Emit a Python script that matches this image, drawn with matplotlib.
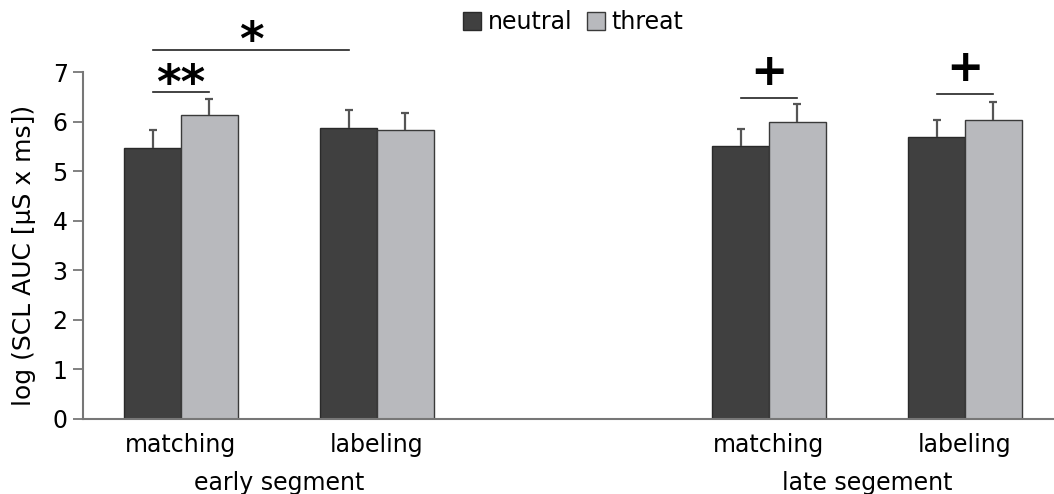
import numpy as np
import matplotlib
matplotlib.use("Agg")
import matplotlib.pyplot as plt
from matplotlib.patches import Patch

plt.rcParams["font.family"] = ["DejaVu Sans"]

conditions = ["matching", "labeling", "matching", "labeling"]
segments = ["early segment", "late segement"]
positions = [0, 1, 3, 4]

neutral = [5.46, 5.87, 5.50, 5.70]
threat = [6.14, 5.84, 6.00, 6.04]
neutral_err = [0.37, 0.37, 0.35, 0.34]
threat_err = [0.32, 0.34, 0.35, 0.36]

neutral_color = "#404040"
threat_color = "#b8b9bd"
err_color = "#555555"

fig = plt.figure(figsize=(10.54, 4.94), dpi=100)
ax = fig.add_axes([0.0787, 0.152, 0.9213, 0.702])

w = 0.29
x = np.array(positions, dtype=float)
ax.bar(x - w / 2, neutral, w, color=neutral_color, edgecolor="#2a2a2a", linewidth=1)
ax.bar(x + w / 2, threat, w, color=threat_color, edgecolor="#3a3a3a", linewidth=1)
for xs, vals, errs in [(x - w / 2, neutral, neutral_err), (x + w / 2, threat, threat_err)]:
    eb = ax.errorbar(xs, vals, yerr=[np.zeros(4), errs], fmt="none",
                     ecolor=err_color, elinewidth=1.6, capsize=3.2, capthick=1.6)
    eb[1][0].set_visible(False)  # no cap at the bar top

ax.set_xlim(-0.5, 4.454)
ax.set_ylim(0, 7)
ax.set_yticks(range(8))
ax.tick_params(axis="y", labelsize=17, length=7, width=1.3, color="#777777", pad=4)
ax.set_xticks(x)
ax.set_xticklabels(conditions, fontsize=17)
ax.tick_params(axis="x", length=0, pad=10)
for s in ["top", "right"]:
    ax.spines[s].set_visible(False)
for s in ["left", "bottom"]:
    ax.spines[s].set_color("#777777")
    ax.spines[s].set_linewidth(1.5)

ax.set_ylabel("log (SCL AUC [µS x ms])", fontsize=18)
ax.yaxis.set_label_coords(-0.048, 0.47)

# segment labels
for cx, lab in zip([0.5, 3.5], segments):
    ax.annotate(lab, xy=(cx, 0), xycoords=("data", "axes fraction"),
                xytext=(0, -46), textcoords="offset points",
                ha="center", va="center", fontsize=17)

# significance markers
def sig_line(x0, x1, y):
    ax.plot([x0, x1], [y, y], color="#222222", lw=1.2, clip_on=False)

sig_line(-w / 2, w / 2, 6.60)
ax.text(0.0, 6.47, "**", ha="center", va="baseline", fontsize=34,
        fontweight="bold", clip_on=False)
sig_line(-w / 2, 1 - w / 2, 7.44)
ax.text(0.36, 7.34, "*", ha="center", va="baseline", fontsize=34,
        fontweight="bold", clip_on=False)
sig_line(3 - w / 2, 3 + w / 2, 6.48)
ax.text(3.0, 7.0, "+", ha="center", va="center", fontsize=32,
        fontweight="heavy", clip_on=False)
sig_line(4 - w / 2, 4 + w / 2, 6.56)
ax.text(4.0, 7.08, "+", ha="center", va="center", fontsize=32,
        fontweight="heavy", clip_on=False)

handles = [Patch(facecolor=neutral_color, edgecolor="#2a2a2a", label="neutral"),
           Patch(facecolor=threat_color, edgecolor="#3a3a3a", label="threat")]
fig.legend(handles=handles, loc="center", bbox_to_anchor=(0.544, 0.955), ncol=2,
           frameon=False, fontsize=17, handlelength=0.75, handleheight=0.75,
           handletextpad=0.3, columnspacing=0.6, borderaxespad=0)

fig.savefig("out.png", dpi=100)
